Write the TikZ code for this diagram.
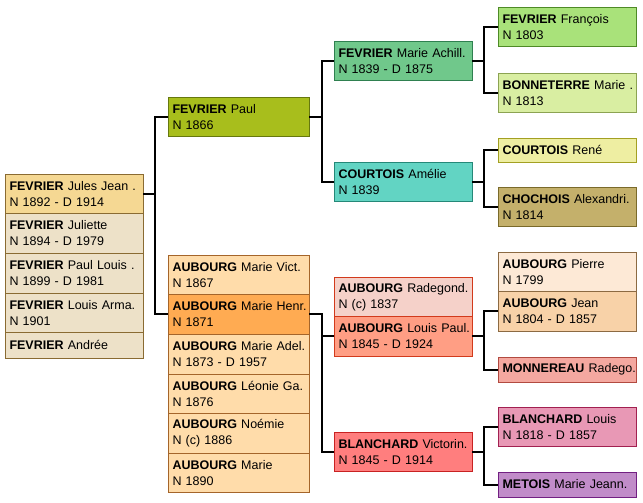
\documentclass[tikz,border=0pt]{standalone}
\usepackage{fontspec}
\setmainfont{Liberation Sans}
\usetikzlibrary{positioning}
\definecolor{jH}{HTML}{F5D893}\definecolor{jS}{HTML}{EDE1C8}\definecolor{jB}{HTML}{8A6B32}
\definecolor{pF}{HTML}{A8BE1C}\definecolor{pB}{HTML}{66780E}
\definecolor{aS}{HTML}{FFDCAA}\definecolor{aH}{HTML}{FFAB52}\definecolor{aB}{HTML}{A5652A}
\definecolor{mF}{HTML}{70C88B}\definecolor{mB}{HTML}{2F8050}
\definecolor{cF}{HTML}{62D4C3}\definecolor{cB}{HTML}{258878}
\definecolor{rS}{HTML}{F5D1C9}\definecolor{rH}{HTML}{FF9E84}\definecolor{rB}{HTML}{D23A1C}
\definecolor{vF}{HTML}{FF7E7E}\definecolor{vB}{HTML}{C82222}
\definecolor{fF}{HTML}{A9E27A}\definecolor{fB}{HTML}{4E8A26}
\definecolor{bF}{HTML}{D9EEA2}\definecolor{bB}{HTML}{8CA352}
\definecolor{kF}{HTML}{EEEEA2}\definecolor{kB}{HTML}{A3A022}
\definecolor{hF}{HTML}{C4B06B}\definecolor{hB}{HTML}{7A6A2A}
\definecolor{iS}{HTML}{FDE9D6}\definecolor{iH}{HTML}{F8D2A8}\definecolor{iB}{HTML}{8C6A42}
\definecolor{nF}{HTML}{F4A8A0}\definecolor{nB}{HTML}{B24A40}
\definecolor{lF}{HTML}{E898B5}\definecolor{lB}{HTML}{A22050}
\definecolor{tF}{HTML}{C18CC9}\definecolor{tB}{HTML}{722082}
\tikzset{person/.style={draw,rectangle,anchor=north west,outer sep=0pt,inner xsep=4.5pt,inner ysep=0pt,
    align=left,text width=129pt,minimum height=39.6pt,font=\fontsize{12.5}{16}\selectfont},
  wide/.style={text width=132pt},single/.style={minimum height=25pt},link/.style={line width=2pt}}
\newcommand{\who}[2]{\mbox{\textbf{#1} #2}}

\begin{document}
\begin{tikzpicture}[x=1pt,y=-1pt]
\useasboundingbox (0,0) rectangle (643,503);
\fill[white] (0,0) rectangle (643,503);
% children
\node[person,fill=jH,draw=jB] (jules) at (5,174) {\who{FEVRIER}{Jules Jean .}\\N 1892 - D 1914};
\node[person,fill=jS,draw=jB,below=0pt of jules] (juliette) {\who{FEVRIER}{Juliette}\\N 1894 - D 1979};
\node[person,fill=jS,draw=jB,below=0pt of juliette] (paullouis) {\who{FEVRIER}{Paul Louis .}\\N 1899 - D 1981};
\node[person,fill=jS,draw=jB,below=0pt of paullouis] (louis) {\who{FEVRIER}{Louis Arma.}\\N 1901};
\node[person,fill=jS,draw=jB,single,minimum height=26pt,below=0pt of louis] (andree) {\who{FEVRIER}{Andrée}};
% parents
\node[person,wide,fill=pF,draw=pB] (paul) at (168,97) {\who{FEVRIER}{Paul}\\N 1866};
\node[person,wide,fill=aS,draw=aB] (vict) at (168,255) {\who{AUBOURG}{Marie Vict.}\\N 1867};
\node[person,wide,fill=aH,draw=aB,below=0pt of vict] (henr) {\who{AUBOURG}{Marie Henr.}\\N 1871};
\node[person,wide,fill=aS,draw=aB,below=0pt of henr] (adel) {\who{AUBOURG}{Marie Adel.}\\N 1873 - D 1957};
\node[person,wide,fill=aS,draw=aB,below=0pt of adel] (leonie) {\who{AUBOURG}{Léonie Ga.}\\N 1876};
\node[person,wide,fill=aS,draw=aB,below=0pt of leonie] (noemie) {\who{AUBOURG}{Noémie}\\N (c) 1886};
\node[person,wide,fill=aS,draw=aB,below=0pt of noemie] (marie) {\who{AUBOURG}{Marie}\\N 1890};
% grandparents
\node[person,fill=mF,draw=mB] (achill) at (334,41) {\who{FEVRIER}{Marie Achill.}\\N 1839 - D 1875};
\node[person,fill=cF,draw=cB] (amelie) at (334,162) {\who{COURTOIS}{Amélie}\\N 1839};
\node[person,fill=rS,draw=rB] (radeg) at (334,277) {\who{AUBOURG}{Radegond.}\\N (c) 1837};
\node[person,fill=rH,draw=rB,below=0pt of radeg] (lpaul) {\who{AUBOURG}{Louis Paul.}\\N 1845 - D 1924};
\node[person,fill=vF,draw=vB] (victorin) at (334,432) {\who{BLANCHARD}{Victorin.}\\N 1845 - D 1914};
% great-grandparents
\node[person,fill=fF,draw=fB] (francois) at (498,7) {\who{FEVRIER}{François}\\N 1803};
\node[person,fill=bF,draw=bB] (bonne) at (498,73) {\who{BONNETERRE}{Marie .}\\N 1813};
\node[person,fill=kF,draw=kB,single,minimum height=24pt] (rene) at (498,138) {\who{COURTOIS}{René}};
\node[person,fill=hF,draw=hB] (chochois) at (498,187) {\who{CHOCHOIS}{Alexandri.}\\N 1814};
\node[person,fill=iS,draw=iB] (pierre) at (498,252) {\who{AUBOURG}{Pierre}\\N 1799};
\node[person,fill=iH,draw=iB,below=0pt of pierre] (jean) {\who{AUBOURG}{Jean}\\N 1804 - D 1857};
\node[person,fill=nF,draw=nB,single] (monner) at (498,357) {\who{MONNEREAU}{Radego.}};
\node[person,fill=lF,draw=lB] (blancl) at (498,407) {\who{BLANCHARD}{Louis}\\N 1818 - D 1857};
\node[person,fill=tF,draw=tB,single] (metois) at (498,472) {\who{METOIS}{Marie Jeann.}};
% links
\draw[link] (jules.east) -- ++(12,0);
\draw[link] (paul.west) -| ([xshift=12]jules.east) |- (henr.west);
\draw[link] (paul.east) -- ++(13,0);
\draw[link] (achill.west) -| ([xshift=13]paul.east) |- (amelie.west);
\draw[link] (henr.east) -- ++(13,0) |- (victorin.west);
\draw[link] (lpaul.west) -- ++(-12,0);
\draw[link] (achill.east) -- ++(12,0);
\draw[link] (francois.west) -| ([xshift=12]achill.east) |- (bonne.west);
\draw[link] (amelie.east) -- ++(12,0);
\draw[link] (rene.west) -| ([xshift=12]amelie.east) |- (chochois.west);
\draw[link] (lpaul.east) -- ++(12,0);
\draw[link] (jean.west) -| ([xshift=12]lpaul.east) |- (monner.west);
\draw[link] (victorin.east) -- ++(12,0);
\draw[link] (blancl.west) -| ([xshift=12]victorin.east) |- (metois.west);
\end{tikzpicture}
\end{document}
